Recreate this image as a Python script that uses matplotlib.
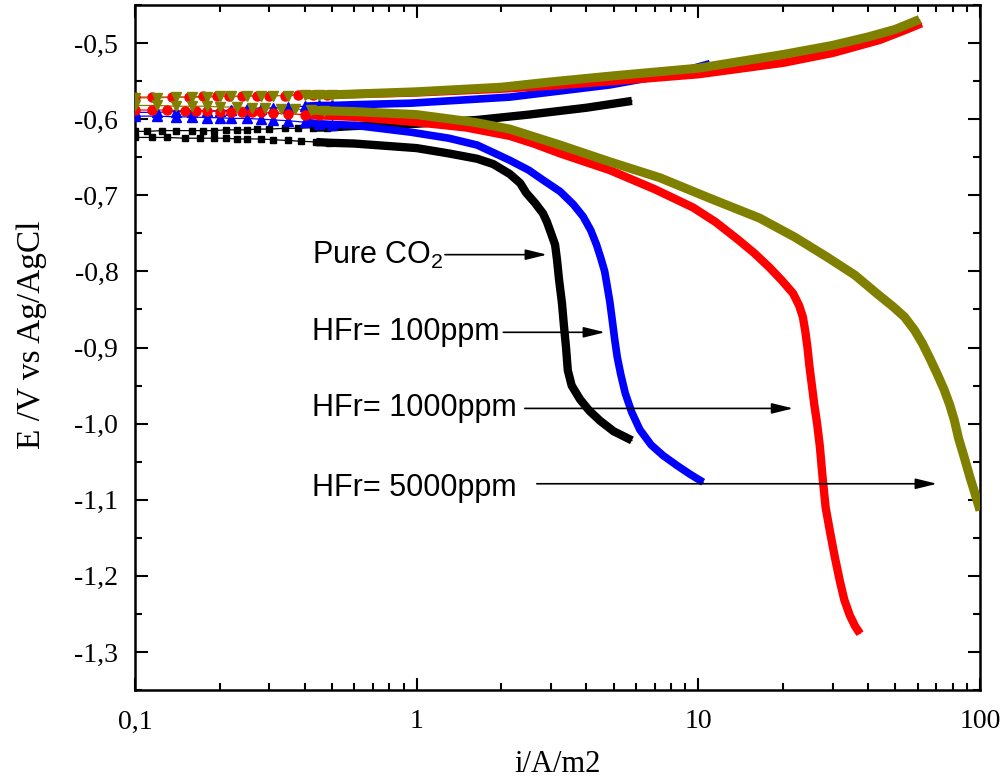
import numpy as np
import matplotlib
matplotlib.use("Agg")
import matplotlib.pyplot as plt
from matplotlib.ticker import FixedLocator, FuncFormatter, LogLocator, MultipleLocator, NullFormatter

plt.rcParams['mathtext.fontset'] = 'custom'
plt.rcParams['mathtext.rm'] = 'Liberation Sans'
plt.rcParams['mathtext.it'] = 'Liberation Sans'

# Pure CO2 (squares)
co2_an_i = [0.10, 0.11, 0.125, 0.14, 0.16, 0.175, 0.19, 0.21, 0.23, 0.25, 0.27, 0.30, 0.34, 0.38, 0.43, 0.48,
            0.6, 1.0, 1.64, 2.5, 4.0, 5.81]
co2_an_E = [-0.616, -0.616, -0.615, -0.615, -0.615, -0.615, -0.615, -0.614, -0.614, -0.614, -0.613, -0.613,
            -0.612, -0.612, -0.611, -0.611, -0.609, -0.606, -0.601, -0.594, -0.585, -0.576]
co2_cat_i = [0.10, 0.115, 0.13, 0.15, 0.17, 0.19, 0.21, 0.23, 0.25, 0.28, 0.31, 0.35, 0.39, 0.44, 0.49,
             0.6, 1.0, 1.3, 1.64, 1.87, 2.14, 2.33, 2.45, 2.63, 2.81, 2.90, 3.0, 3.1, 3.15, 3.2, 3.28, 3.33,
             3.39, 3.44, 3.55, 3.80, 4.1, 4.47, 5.0, 5.81]
co2_cat_E = [-0.624, -0.624, -0.624, -0.625, -0.625, -0.625, -0.625, -0.626, -0.626, -0.626, -0.627, -0.628,
             -0.629, -0.630, -0.631, -0.632, -0.638, -0.645, -0.652, -0.659, -0.672, -0.684, -0.697, -0.710,
             -0.724, -0.735, -0.750, -0.765, -0.785, -0.810, -0.842, -0.870, -0.900, -0.930, -0.950, -0.968,
             -0.983, -0.996, -1.010, -1.022]

# HFr = 100 ppm (up triangles)
hf100_an_i = [0.10, 0.12, 0.14, 0.16, 0.18, 0.20, 0.22, 0.25, 0.28, 0.31, 0.35, 0.40, 0.45, 0.50,
              0.6, 0.95, 2.14, 4.85, 8.4, 11.0]
hf100_an_E = [-0.591, -0.591, -0.590, -0.590, -0.589, -0.589, -0.588, -0.587, -0.586, -0.585, -0.584, -0.583,
              -0.582, -0.582, -0.581, -0.579, -0.571, -0.555, -0.539, -0.527]
hf100_cat_i = [0.10, 0.12, 0.14, 0.16, 0.18, 0.20, 0.22, 0.25, 0.28, 0.31, 0.35, 0.40, 0.45, 0.50,
               0.6, 0.95, 1.3, 1.64, 2.14, 2.5, 2.81, 3.23, 3.6, 3.9, 4.15, 4.35, 4.5, 4.65, 4.75, 4.85, 4.95,
               5.05, 5.15, 5.3, 5.5, 5.8, 6.2, 6.8, 7.5, 8.4, 9.3, 10.4]
hf100_cat_E = [-0.596, -0.596, -0.597, -0.597, -0.598, -0.598, -0.599, -0.599, -0.600, -0.601, -0.602, -0.604,
               -0.606, -0.607, -0.608, -0.617, -0.625, -0.634, -0.654, -0.667, -0.680, -0.695, -0.712, -0.728,
               -0.746, -0.765, -0.782, -0.800, -0.820, -0.840, -0.865, -0.890, -0.912, -0.935, -0.960, -0.985,
               -1.008, -1.028, -1.042, -1.055, -1.066, -1.077]

# HFr = 1000 ppm (circles)
hf1000_an_i = [0.10, 0.115, 0.135, 0.155, 0.175, 0.195, 0.215, 0.24, 0.27, 0.30, 0.34, 0.38, 0.43, 0.48,
               1.0, 2.0, 3.0, 5.0, 10.0, 20.0, 30.0, 44.0, 55.0, 62.0]
hf1000_an_E = [-0.571, -0.571, -0.571, -0.571, -0.570, -0.570, -0.570, -0.570, -0.569, -0.569, -0.569, -0.568,
               -0.568, -0.568, -0.565, -0.560, -0.556, -0.550, -0.541, -0.526, -0.513, -0.496, -0.482, -0.474]
hf1000_cat_i = [0.10, 0.115, 0.13, 0.15, 0.165, 0.18, 0.20, 0.22, 0.24, 0.26, 0.28, 0.31, 0.35, 0.40, 0.45,
                0.6, 1.0, 1.5, 2.14, 2.6, 3.23, 4.85, 7.0, 9.57, 11.5, 13.7, 15.8, 17.9, 19.8, 21.7, 22.8,
                23.5, 24.0, 24.4, 24.8, 25.3, 25.8, 26.4, 27.0, 27.6, 28.3, 29.3, 30.5, 31.8, 33.0, 34.5,
                36.0, 37.5]
hf1000_cat_E = [-0.588, -0.588, -0.588, -0.589, -0.589, -0.589, -0.590, -0.590, -0.590, -0.591, -0.591, -0.592,
                -0.593, -0.594, -0.595, -0.597, -0.604, -0.611, -0.622, -0.632, -0.645, -0.667, -0.692, -0.716,
                -0.735, -0.757, -0.776, -0.795, -0.812, -0.829, -0.845, -0.860, -0.880, -0.900, -0.925, -0.950,
                -0.975, -1.000, -1.030, -1.070, -1.110, -1.141, -1.175, -1.207, -1.232, -1.252, -1.266, -1.276]

# HFr = 5000 ppm (down triangles)
hf5000_an_i = [0.10, 0.12, 0.14, 0.16, 0.18, 0.20, 0.22, 0.25, 0.28, 0.31, 0.35, 0.40, 0.45,
               0.5, 1.0, 2.0, 3.0, 5.0, 10.0, 20.0, 30.0, 40.0, 50.0, 61.0]
hf5000_an_E = [-0.572, -0.572, -0.571, -0.571, -0.571, -0.570, -0.570, -0.570, -0.569, -0.569, -0.569, -0.568,
               -0.568, -0.568, -0.564, -0.558, -0.551, -0.543, -0.533, -0.515, -0.503, -0.492, -0.482, -0.469]
hf5000_cat_i = [0.10, 0.12, 0.14, 0.16, 0.18, 0.20, 0.23, 0.26, 0.29, 0.33, 0.37, 0.42, 0.47,
                0.6, 1.0, 1.6, 2.14, 3.23, 4.85, 7.31, 11.0, 16.5, 22.0, 28.6, 36.0, 43.0, 49.0, 54.0, 58.5,
                62.5, 66.5, 70.5, 74.5, 78.0, 81.0, 84.0, 88.0, 92.0, 96.0, 100.0]
hf5000_cat_E = [-0.582, -0.582, -0.583, -0.583, -0.583, -0.584, -0.584, -0.585, -0.585, -0.586, -0.587, -0.588,
                -0.589, -0.590, -0.594, -0.604, -0.613, -0.634, -0.656, -0.677, -0.704, -0.730, -0.755, -0.781,
                -0.805, -0.829, -0.846, -0.860, -0.877, -0.895, -0.915, -0.935, -0.955, -0.975, -0.995, -1.020,
                -1.045, -1.070, -1.092, -1.114]

# annotation labels: text, text position, arrow start, arrow tip
labels = ["Pure CO$_2$", "HFr= 100ppm", "HFr= 1000ppm", "HFr= 5000ppm"]
label_xy = [(0.425, -0.779), (0.425, -0.879), (0.425, -0.980), (0.425, -1.084)]
arrow_from = [(1.26, -0.778), (2.03, -0.880), (2.42, -0.980), (2.67, -1.079)]
arrow_to = [(2.90, -0.778), (4.66, -0.880), (21.7, -0.980), (70.3, -1.079)]


def draw_branch(ax, i, E, color, marker, ms, lw):
    i = np.array(i)
    E = np.array(E)
    ax.plot(i, E, '-', color=color, lw=0.9, zorder=2)
    sp = i <= 0.5
    ax.plot(i[sp], E[sp], ls='none', marker=marker, ms=ms, color=color, mec=color, zorder=3)
    dn = i >= 0.4
    ax.plot(i[dn], E[dn], '-', color=color, lw=lw, solid_capstyle='butt', solid_joinstyle='round', zorder=3)


fig = plt.figure(figsize=(10.03, 7.82), dpi=100)
ax = fig.add_axes([0.1346, 0.1176, 0.8425, 0.8760])

series = [
    (co2_an_i, co2_an_E, co2_cat_i, co2_cat_E, 'black', 's', 5.0, 6.0),
    (hf100_an_i, hf100_an_E, hf100_cat_i, hf100_cat_E, '#0000ff', '^', 7.0, 5.5),
    (hf1000_an_i, hf1000_an_E, hf1000_cat_i, hf1000_cat_E, '#ff0000', 'o', 6.5, 6.0),
    (hf5000_an_i, hf5000_an_E, hf5000_cat_i, hf5000_cat_E, '#808000', 'v', 7.5, 6.5),
]
for ai, aE, ci, cE, col, mk, ms, lw in series:
    draw_branch(ax, ci, cE, col, mk, ms, lw)
    draw_branch(ax, ai, aE, col, mk, ms, lw)

for txt, pos, p0, p1 in zip(labels, label_xy, arrow_from, arrow_to):
    ax.text(pos[0], pos[1], txt, fontsize=22, family='Liberation Sans', va='center', ha='left', zorder=5)
    ax.annotate('', xy=p1, xytext=p0,
                arrowprops=dict(arrowstyle='-|>,head_length=0.65,head_width=0.16',
                                color='black', lw=1.2, mutation_scale=20, shrinkA=0, shrinkB=0),
                zorder=5)

ax.set_xscale('log')
ax.set_xlim(0.1, 100)
ax.set_ylim(-1.35, -0.45)

ax.xaxis.set_major_locator(FixedLocator([0.1, 1, 10, 100]))
ax.xaxis.set_major_formatter(FuncFormatter(lambda v, p: {0.1: '0,1', 1: '1', 10: '10', 100: '100'}.get(round(v, 1), '')))
ax.xaxis.set_minor_locator(LogLocator(base=10, subs=np.arange(2, 10)))
ax.xaxis.set_minor_formatter(NullFormatter())
ax.yaxis.set_major_locator(MultipleLocator(0.1))
ax.yaxis.set_minor_locator(MultipleLocator(0.05))
ax.yaxis.set_major_formatter(FuncFormatter(lambda v, p: ('%.1f' % v).replace('.', ',')))

ax.tick_params(which='both', direction='in', top=True, right=True, width=1.5)
ax.tick_params(which='major', length=9, labelsize=20)
ax.tick_params(which='minor', length=5)
ax.tick_params(axis='x', pad=14)
ax.tick_params(axis='y', pad=12)
for lab in ax.get_xticklabels() + ax.get_yticklabels():
    lab.set_family('Liberation Serif')
for sp in ax.spines.values():
    sp.set_linewidth(1.8)

ax.set_xlabel('i/A/m2', fontsize=22, family='Liberation Serif')
ax.set_ylabel('E /V vs Ag/AgCl', fontsize=24, family='Liberation Serif')
ax.xaxis.set_label_coords(0.5, -0.087)
ax.yaxis.set_label_coords(-0.104, 0.518)

fig.savefig('out.png', dpi=100)
